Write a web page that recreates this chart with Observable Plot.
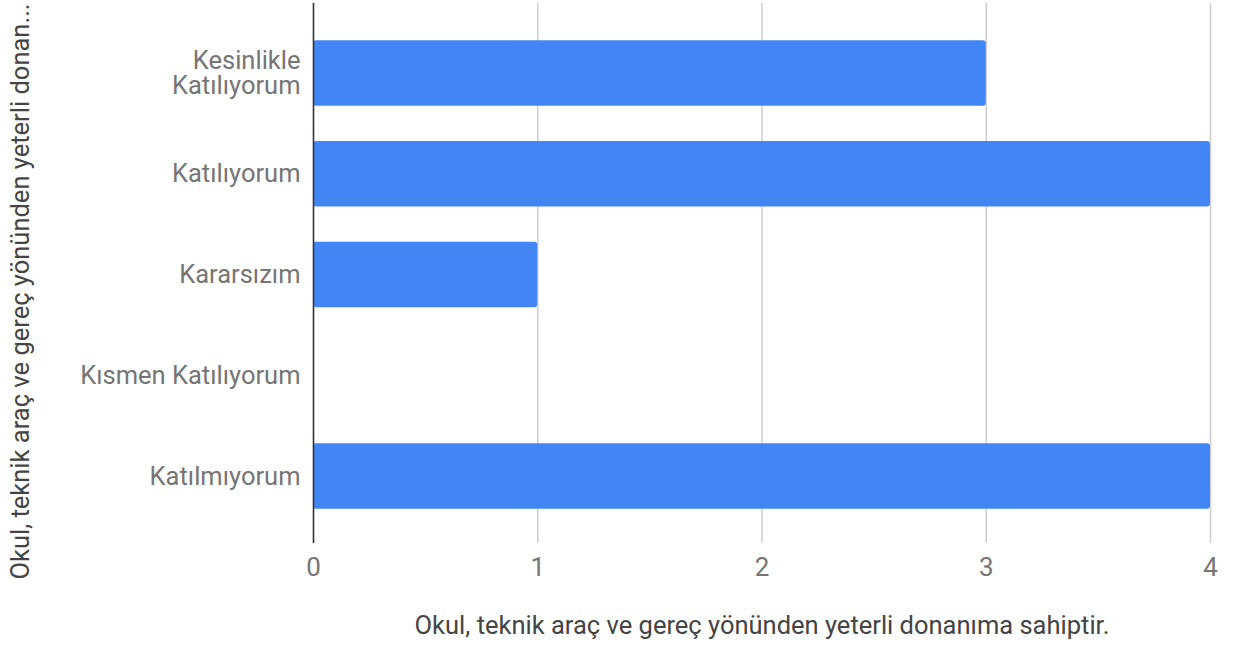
<!DOCTYPE html>
<html>
<head>
<meta charset="utf-8">
<script src="https://cdn.jsdelivr.net/npm/d3@7"></script>
<script src="https://cdn.jsdelivr.net/npm/@observablehq/plot@0.6"></script>
<style>
  html, body { margin: 0; padding: 0; background: #fff; }
  svg { display: block; font-family: Roboto, sans-serif; }
</style>
</head>
<body>
<div id="chart"></div>
<script>
const categories = ["Kesinlikle Katılıyorum", "Katılıyorum", "Kararsızım", "Kısmen Katılıyorum", "Katılmıyorum"];
const values = [3, 4, 1, 0, 4];
const xTicks = [0, 1, 2, 3, 4];
const xTitle = "Okul, teknik araç ve gereç yönünden yeterli donanıma sahiptir.";
const yTitle = "Okul, teknik araç ve gereç yönünden yeterli donan...";
const tickLabelMap = {"Kesinlikle Katılıyorum": "Kesinlikle\nKatılıyorum"};

const data = categories.map((c, i) => ({category: c, value: values[i]}));

const chart = Plot.plot({
  width: 1240,
  height: 653,
  marginTop: 3,
  marginBottom: 110,
  marginLeft: 313,
  marginRight: 30,
  style: {fontFamily: "Roboto, sans-serif", background: "#fff"},
  x: {domain: [0, 4], ticks: xTicks},
  y: {domain: categories, range: [3, 546], paddingInner: 0.35, paddingOuter: 0.37, round: false},
  marks: [
    Plot.gridX(xTicks, {stroke: "#cccccc", strokeOpacity: 1, strokeWidth: 1.5}),
    Plot.barX(data.filter(d => d.value > 0), {x: "value", y: "category", fill: "#4285F4", rx: 3}),
    Plot.ruleX([0], {stroke: "#333333", strokeWidth: 1.5}),
    Plot.axisX(xTicks, {tickSize: 0, tickPadding: 0, dy: 14, fontSize: 26, color: "#757575", label: null, tickFormat: d => String(d)}),
    Plot.axisY({tickSize: 0, tickPadding: 13, fontSize: 25.5, lineHeight: 1, color: "#757575", label: null, tickFormat: d => tickLabelMap[d] ?? d}),
    Plot.text([xTitle], {frameAnchor: "bottom", dy: 90, fontSize: 25.5, fill: "#444444", text: d => d}),
    Plot.text([yTitle], {frameAnchor: "left", textAnchor: "middle", dx: -293, dy: 18, rotate: -90, fontSize: 25.5, fill: "#444444", text: d => d})
  ]
});
document.getElementById("chart").appendChild(chart);
</script>
</body>
</html>
